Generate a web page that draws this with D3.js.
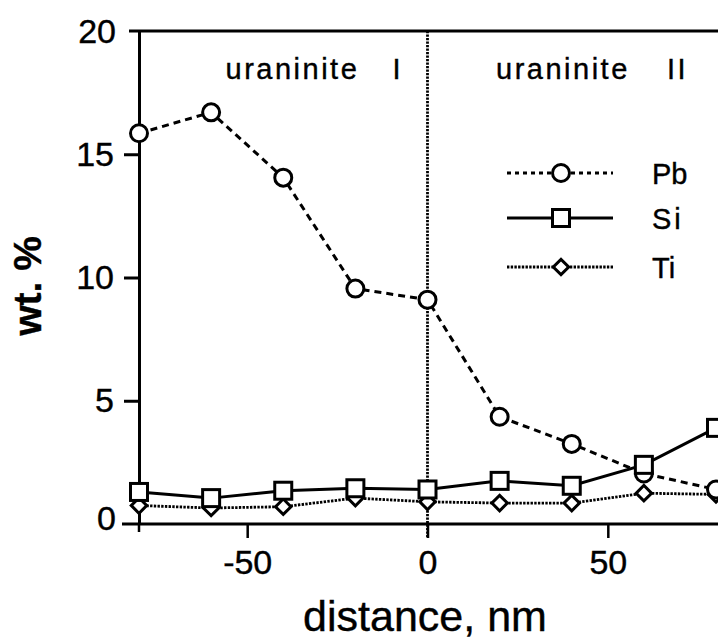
<!DOCTYPE html>
<html>
<head>
<meta charset="utf-8">
<script src="https://cdn.jsdelivr.net/npm/d3@7"></script>
<style>
    body { margin: 0; background: #fff; }
    svg { display: block; font-family: "Liberation Sans", Arial, Helvetica, sans-serif; }
    text { stroke: #000; stroke-width: 0.4px; }
</style>
</head>
<body>
<script>
// distance from the boundary (nm) and the measured contents (wt. %)
const distance = [-80, -60, -40, -20, 0, 20, 40, 60, 80];
const pb = [15.85, 16.7, 14.05, 9.55, 9.1, 4.35, 3.25, 2.05, 1.4];
const si = [1.3, 1.05, 1.35, 1.45, 1.4, 1.75, 1.55, 2.4, 3.9];
const ti = [0.75, 0.65, 0.7, 1.05, 0.9, 0.85, 0.85, 1.25, 1.2];

const xTicks = [-50, 0, 50];
const yTicks = [0, 5, 10, 15, 20];
const regionNames = [["uraninite", "I"], ["uraninite", "II"]];
const seriesNames = ["Pb", "Si", "Ti"];

const width = 718, height = 639;

const svg = d3.select("body").append("svg")
    .attr("width", width)
    .attr("height", height);

const x = d3.scaleLinear().domain([-80, 80]).range([139, 716]);
const y = d3.scaleLinear().domain([0, 20]).range([524, 31]);

// frame: left axis, top line, bottom line
const yAxis = d3.axisLeft(y)
    .tickValues(yTicks.slice(1, 4))
    .tickSize(15)
    .tickSizeOuter(0)
    .tickPadding(10)
    .tickFormat(d3.format("d"));

const gy = svg.append("g")
    .attr("transform", `translate(${x(-80)},0)`)
    .call(yAxis);
gy.selectAll("path, line").attr("stroke", "#000").attr("stroke-width", 3);
gy.selectAll("text").attr("font-size", 34).attr("fill", "#000");

// end labels 0 and 20 sit on the frame lines
svg.append("g").selectAll("text")
    .data([yTicks[0], yTicks[4]])
    .join("text")
    .attr("x", x(-80) - 23)
    .attr("y", d => y(d) - (d === 0 ? 6 : 0))
    .attr("dy", "0.35em")
    .attr("text-anchor", "end")
    .attr("font-size", 34)
    .text(d => d);

svg.append("line")
    .attr("x1", x(-80) - 10).attr("x2", width)
    .attr("y1", y(20)).attr("y2", y(20))
    .attr("stroke", "#000").attr("stroke-width", 3);

svg.append("line")
    .attr("x1", x(-80) - 17).attr("x2", width)
    .attr("y1", y(0)).attr("y2", y(0))
    .attr("stroke", "#000").attr("stroke-width", 3);

const xAxis = d3.axisBottom(x)
    .tickValues(xTicks)
    .tickSize(14)
    .tickPadding(12)
    .tickFormat(d3.format("d"));

const gx = svg.append("g")
    .attr("transform", `translate(0,${y(0)})`)
    .call(xAxis);
gx.select(".domain").remove();
gx.selectAll("line").attr("stroke", "#000").attr("stroke-width", 2.5);
gx.selectAll("text").attr("font-size", 34).attr("fill", "#000")
    .text(d => d < 0 ? "-" + Math.abs(d) : d);

// small tick under the first column
svg.append("line")
    .attr("x1", x(-80)).attr("x2", x(-80))
    .attr("y1", y(0)).attr("y2", y(0) + 8)
    .attr("stroke", "#000").attr("stroke-width", 2.5);

// boundary between the two uraninites
svg.append("line")
    .attr("x1", x(0)).attr("x2", x(0))
    .attr("y1", y(20)).attr("y2", y(0) + 14)
    .attr("stroke", "#000").attr("stroke-width", 2.8)
    .attr("stroke-dasharray", "2.2,1.3");

// axis titles
svg.append("text")
    .attr("x", 425).attr("y", 631)
    .attr("text-anchor", "middle")
    .attr("font-size", 43)
    .text("distance, nm");

svg.append("text")
    .attr("transform", "translate(41,286) rotate(-90)")
    .attr("text-anchor", "middle")
    .attr("font-size", 39)
    .attr("font-weight", "bold")
    .text("wt. %");

// region labels
const regionX = [[x(-56), x(-56) + 167], [x(19), x(19) + 171]];
regionNames.forEach((r, i) => {
    const t = svg.append("text")
        .attr("y", 79)
        .attr("font-size", 29)
        .attr("letter-spacing", 2.5);
    t.append("tspan").attr("x", regionX[i][0]).text(r[0]);
    t.append("tspan").attr("x", regionX[i][1]).text(r[1]);
});

// series
const rows = distance.map((d, i) => ({x: d, pb: pb[i], si: si[i], ti: ti[i]}));

const styles = {
    Pb: {key: "pb", dash: "7,5", width: 3, marker: "circle"},
    Si: {key: "si", dash: null, width: 3, marker: "square"},
    Ti: {key: "ti", dash: "2.4,1.3", width: 2.8, marker: "diamond"}
};

function drawMarker(sel, type) {
    if (type === "circle") {
        sel.append("circle").attr("r", 8.5);
    } else if (type === "square") {
        sel.append("rect").attr("x", -8.5).attr("y", -8.5)
            .attr("width", 17).attr("height", 17);
    } else {
        sel.append("path").attr("d", d3.symbol(d3.symbolSquare, 120)())
            .attr("transform", "rotate(45)");
    }
    sel.selectAll("circle, rect, path")
        .attr("fill", "#fff").attr("stroke", "#000").attr("stroke-width", 3);
}

["Ti", "Pb", "Si"].forEach(name => {
    const s = styles[name];
    const line = d3.line().x(d => x(d.x)).y(d => y(d[s.key]));
    svg.append("path")
        .datum(rows)
        .attr("d", line)
        .attr("fill", "none")
        .attr("stroke", "#000")
        .attr("stroke-width", s.width)
        .attr("stroke-dasharray", s.dash);
    svg.append("g").selectAll("g")
        .data(rows)
        .join("g")
        .attr("transform", d => `translate(${x(d.x)},${y(d[s.key])})`)
        .each(function () { drawMarker(d3.select(this), s.marker); });
});

// legend
const legendY = [173, 218, 267];
const legend = svg.append("g");
seriesNames.forEach((name, i) => {
    const s = styles[name];
    const g = legend.append("g").attr("transform", `translate(0,${legendY[i]})`);
    g.append("line")
        .attr("x1", 507).attr("x2", 613)
        .attr("stroke", "#000")
        .attr("stroke-width", s.width)
        .attr("stroke-dasharray", name === "Pb" ? "4,4" : s.dash);
    const m = g.append("g").attr("transform", "translate(561,0)");
    drawMarker(m, s.marker);
    g.append("text")
        .attr("x", 652).attr("y", 11)
        .attr("font-size", 29)
        .attr("letter-spacing", name === "Si" ? 3 : 0)
        .text(name);
});
</script>
</body>
</html>
